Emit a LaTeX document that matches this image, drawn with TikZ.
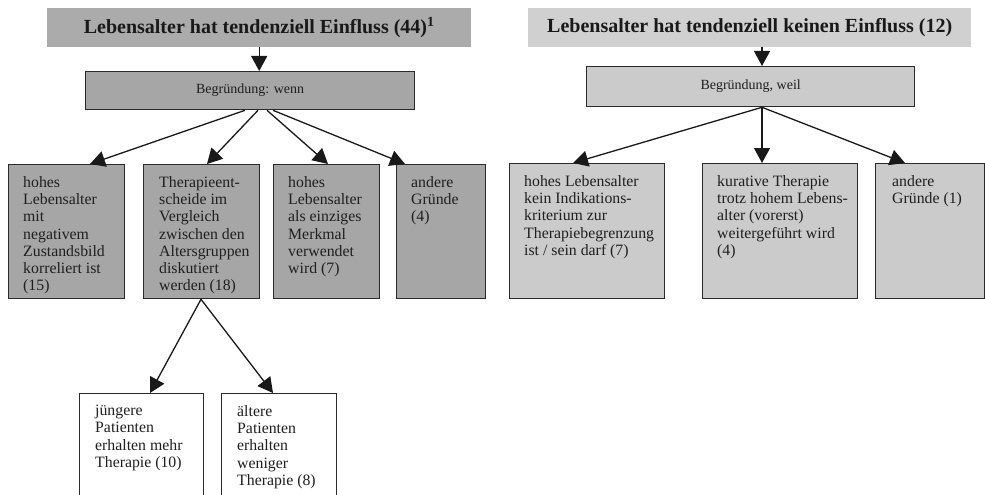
\documentclass[tikz,border=0pt]{standalone}
\usepackage{fontspec}
\setmainfont{Liberation Serif}
\usetikzlibrary{arrows.meta,calc}
\definecolor{dk}{HTML}{A6A6A6}
\definecolor{dkt}{HTML}{ABABAB}
\definecolor{lt}{HTML}{CBCBCB}
\definecolor{ltt}{HTML}{D0D0D0}
\definecolor{edge}{HTML}{2A2A2A}
\tikzset{
  boxbase/.style={draw=edge, line width=1.3pt, inner sep=0pt, anchor=north west},
  dkbox/.style={boxbase, fill=dk},
  ltbox/.style={boxbase, fill=lt},
  whbox/.style={boxbase, fill=white},
  titlebox/.style={inner sep=0pt, anchor=north west},
  titletxt/.style={inner sep=0pt, text=black!90, font=\fontsize{20}{22}\selectfont\bfseries},
  txt/.style={inner sep=0pt, anchor=north west, align=left, text=black!88, font=\fontsize{15.8}{17.3}\selectfont},
  mid/.style={inner sep=0pt, text=black!88, font=\fontsize{14}{16}\selectfont},
  conn/.style={line width=1.3pt, draw=black!90, -{Triangle[length=15pt,width=16pt]}},
}
\begin{document}
\begin{tikzpicture}[x=1pt,y=-1pt]
\useasboundingbox (0,0) rectangle (985,495);
\clip (0,0) rectangle (985,495);
% ---------- left ----------
\node[titlebox, fill=dkt, minimum width=424pt, minimum height=39pt] (lt) at (47,8) {};
\node[titletxt] at (lt.center) {Lebensalter hat tendenziell Einfluss (44)\textsuperscript{1}};
\node[dkbox, minimum width=329pt, minimum height=38pt] (lw) at (85,71) {};
\node[mid] at (lw.center) {Begründung: wenn};
\draw[conn] (lt.south) -- (lt.south |- lw.north);

\node[dkbox, minimum width=116pt, minimum height=134pt] (l1) at (8,164) {};
\node[dkbox, minimum width=116pt, minimum height=134pt] (l2) at (143,164) {};
\node[dkbox, minimum width=106pt, minimum height=134pt] (l3) at (273,164) {};
\node[dkbox, minimum width=89pt, minimum height=134pt] (l4) at (396,164) {};
\node[txt] at ($(l1.north west)+(15,12)$) {hohes\\Lebensalter\\mit\\negativem\\Zustandsbild\\korreliert ist\\(15)};
\node[txt] at ($(l2.north west)+(16,12)$) {Therapieent-\\scheide im\\Vergleich\\zwischen den\\Altersgruppen\\diskutiert\\werden (18)};
\node[txt] at ($(l3.north west)+(15,12)$) {hohes\\Lebensalter\\als einziges\\Merkmal\\verwendet\\wird (7)};
\node[txt] at ($(l4.north west)+(15,12)$) {andere\\Gründe\\(4)};

\draw[conn] ($(lw.south west)+(160,0)$) -- ($(l1.north west)+(82,0)$);
\draw[conn] ($(lw.south west)+(173,0)$) -- ($(l2.north west)+(64,0)$);
\draw[conn] ($(lw.south west)+(182,0)$) -- ($(l3.north west)+(55,0)$);
\draw[conn] ($(lw.south west)+(188,0)$) -- ($(l4.north west)+(9,0)$);

\node[whbox, minimum width=124pt, minimum height=130pt] (w1) at (79,393) {};
\node[whbox, minimum width=115pt, minimum height=130pt] (w2) at (221,393) {};
\node[txt] at ($(w1.north west)+(16,12)$) {jüngere\\Patienten\\erhalten mehr\\Therapie (10)};
\node[txt] at ($(w2.north west)+(16,12)$) {ältere\\Patienten\\erhalten\\weniger\\Therapie (8)};
\draw[conn] ($(l2.south west)+(58,0)$) -- ($(w1.north west)+(71,0)$);
\draw[conn] ($(l2.south west)+(58,0)$) -- ($(w2.north west)+(52,0)$);

% ---------- right ----------
\node[titlebox, fill=ltt, minimum width=443pt, minimum height=39pt] (rt) at (528,8) {};
\node[titletxt] at (rt.center) {Lebensalter hat tendenziell keinen Einfluss (12)};
\node[ltbox, minimum width=328pt, minimum height=40pt] (rw) at (586,66) {};
\node[mid] at (rw.center) {Begründung, weil};
\draw[conn] ($(rt.south west)+(234,0)$) -- ($(rw.north west)+(176,0)$);

\node[ltbox, minimum width=155pt, minimum height=135pt] (r1) at (509,163) {};
\node[ltbox, minimum width=155pt, minimum height=135pt] (r2) at (702,163) {};
\node[ltbox, minimum width=109pt, minimum height=135pt] (r3) at (875,163) {};
\node[txt] at ($(r1.north west)+(15,12)$) {hohes Lebensalter\\kein Indikations-\\kriterium zur\\Therapiebegrenzung\\ist / sein darf (7)};
\node[txt] at ($(r2.north west)+(15,12)$) {kurative Therapie\\trotz hohem Lebens-\\alter (vorerst)\\weitergeführt wird\\(4)};
\node[txt] at ($(r3.north west)+(17,12)$) {andere\\Gründe (1)};

\draw[conn] ($(rw.south west)+(176,0)$) -- ($(r1.north west)+(64,0)$);
\draw[conn] ($(rw.south west)+(176,0)$) -- ($(r2.north west)+(60,0)$);
\draw[conn] ($(rw.south west)+(176,0)$) -- ($(r3.north west)+(30,0)$);
\end{tikzpicture}
\end{document}
